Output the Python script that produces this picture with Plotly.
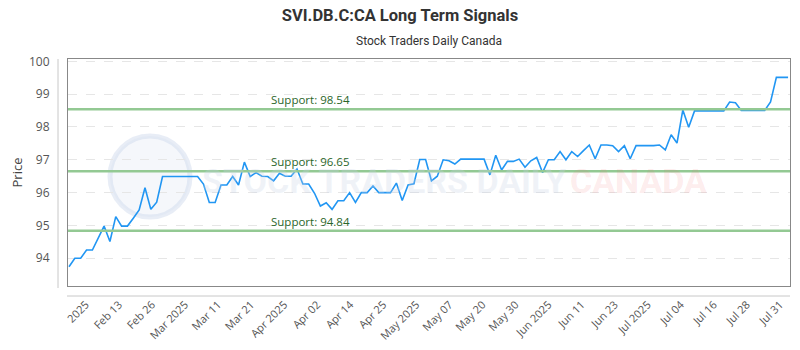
import plotly.graph_objects as go

prices = [
    93.74, 94.00, 94.00, 94.25, 94.25, 94.61, 94.98, 94.51, 95.27, 94.98,
    94.98, 95.22, 95.47, 96.15, 95.49, 95.71, 96.49, 96.49, 96.49, 96.49,
    96.49, 96.49, 96.49, 96.26, 95.70, 95.70, 96.23, 96.23, 96.49, 96.23,
    96.93, 96.49, 96.61, 96.50, 96.49, 96.36, 96.59, 96.50, 96.50, 96.72,
    96.26, 96.26, 95.98, 95.59, 95.69, 95.49, 95.75, 95.75, 96.00, 95.70,
    96.00, 96.00, 96.20, 96.00, 96.00, 96.00, 96.29, 95.76, 96.23, 96.27,
    97.01, 97.01, 96.36, 96.50, 97.00, 96.97, 96.87, 97.02, 97.02, 97.02,
    97.02, 97.02, 96.54, 97.14, 96.69, 96.95, 96.95, 97.02, 96.77, 96.97,
    97.07, 96.61, 97.00, 97.00, 97.25, 97.00, 97.25, 97.10, 97.28, 97.45,
    97.03, 97.45, 97.45, 97.43, 97.25, 97.43, 97.03, 97.43, 97.43, 97.42,
    97.43, 97.45, 97.30, 97.76, 97.51, 98.52, 97.99, 98.49, 98.49, 98.49,
    98.49, 98.49, 98.49, 98.76, 98.74, 98.50, 98.50, 98.50, 98.50, 98.50,
    98.76, 99.51, 99.51, 99.51,
]
idx = list(range(len(prices)))

tick_labels = ["2025", "Feb 13", "Feb 26", "Mar 2025", "Mar 11", "Mar 21",
               "Apr 2025", "Apr 02", "Apr 14", "Apr 25", "May 2025", "May 07",
               "May 20", "May 30", "Jun 2025", "Jun 11", "Jun 23", "Jul 2025",
               "Jul 04", "Jul 16", "Jul 28", "Jul 31"]
tick_start = 2.9
tick_step = 5.653
tick_vals = [tick_start + k * tick_step for k in range(len(tick_labels))]

supports = [98.54, 96.65, 94.84]
support_labels = ["Support: 98.54", "Support: 96.65", "Support: 94.84"]

# plot box in pixels (reference)
L, R, T, B = 68, 790, 59, 286
W, H = R - L, B - T


def px(x):
    return (x - L) / W


def py(y):
    return (B - y) / H


fig = go.Figure()
fig.add_trace(go.Scatter(x=idx, y=prices, mode="lines",
                         line=dict(color="#2196f3", width=1.6),
                         hoverinfo="skip", showlegend=False))

shapes = []
annotations = []

# watermark logo circle
shapes.append(dict(type="circle", xref="paper", yref="paper",
                   x0=px(110), x1=px(190), y0=py(217), y1=py(136),
                   fillcolor="rgba(215,224,238,0.25)",
                   line=dict(color="rgba(205,216,234,0.45)", width=5), layer="below"))
annotations.append(dict(x=px(200), xref="paper", y=py(181), yref="paper",
                        text="<b>STOCK TRADERS DAILY</b>", showarrow=False, xanchor="left",
                        yanchor="middle",
                        font=dict(family="Roboto", size=34, color="rgba(200,212,230,0.28)")))
annotations.append(dict(x=px(568), xref="paper", y=py(181), yref="paper",
                        text="<b>CANADA</b>", showarrow=False, xanchor="left",
                        yanchor="middle",
                        font=dict(family="Roboto", size=34, color="rgba(240,120,120,0.15)")))

for s, lab in zip(supports, support_labels):
    shapes.append(dict(type="line", xref="paper", x0=0, x1=1, yref="y", y0=s, y1=s,
                       line=dict(color="#93c993", width=2.5), layer="above"))
    annotations.append(dict(x=px(310), xref="paper", y=s, yref="y", text=lab,
                            showarrow=False, yanchor="bottom", yshift=0,
                            font=dict(family="Open Sans", size=11.5, color="#2a662a")))

# offset axis lines
shapes.append(dict(type="line", xref="paper", yref="paper", x0=px(58), x1=px(58),
                   y0=py(288), y1=py(59), line=dict(color="#c8c8c8", width=1), layer="below"))
shapes.append(dict(type="line", xref="paper", yref="paper", x0=px(67), x1=px(790),
                   y0=py(296), y1=py(296), line=dict(color="#c8c8c8", width=1), layer="below"))

annotations.append(dict(x=0.5, xref="paper", y=py(41), yref="paper", yanchor="middle",
                        text="Stock Traders Daily Canada", showarrow=False,
                        font=dict(family="Roboto", size=12, color="#333")))

fig.update_layout(
    width=800, height=350,
    margin=dict(l=L, r=800 - R, t=T, b=350 - B, autoexpand=False),
    paper_bgcolor="white", plot_bgcolor="white",
    title=dict(text="<b>SVI.DB.C:CA Long Term Signals</b>", x=0.5, xanchor="center",
               y=(350 - 15) / 350, yanchor="middle",
               font=dict(family="Roboto", size=16.5, color="#333")),
    shapes=shapes, annotations=annotations,
    xaxis=dict(range=[-0.17, 123.33], tickmode="array", tickvals=tick_vals,
               ticktext=tick_labels, tickangle=-45, showgrid=False, zeroline=False,
               showline=True, mirror=True, linecolor="#888", linewidth=1,
               ticks="outside", ticklen=7, tickcolor="rgba(0,0,0,0)", automargin=False,
               tickfont=dict(family="Open Sans", size=11, color="#555")),
    yaxis=dict(range=[93.155, 100.07], tickvals=[94, 95, 96, 97, 98, 99, 100],
               showgrid=True, gridcolor="#e6e6e6", griddash="dash", zeroline=False,
               showline=True, mirror=True, linecolor="#888", linewidth=1,
               ticks="outside", ticklen=15, tickcolor="rgba(0,0,0,0)", automargin=False,
               title=dict(text="Price", font=dict(family="Open Sans", size=13, color="#444"),
                          standoff=3),
               tickfont=dict(family="Open Sans", size=12, color="#555")),
)

fig.write_html("out.html")
